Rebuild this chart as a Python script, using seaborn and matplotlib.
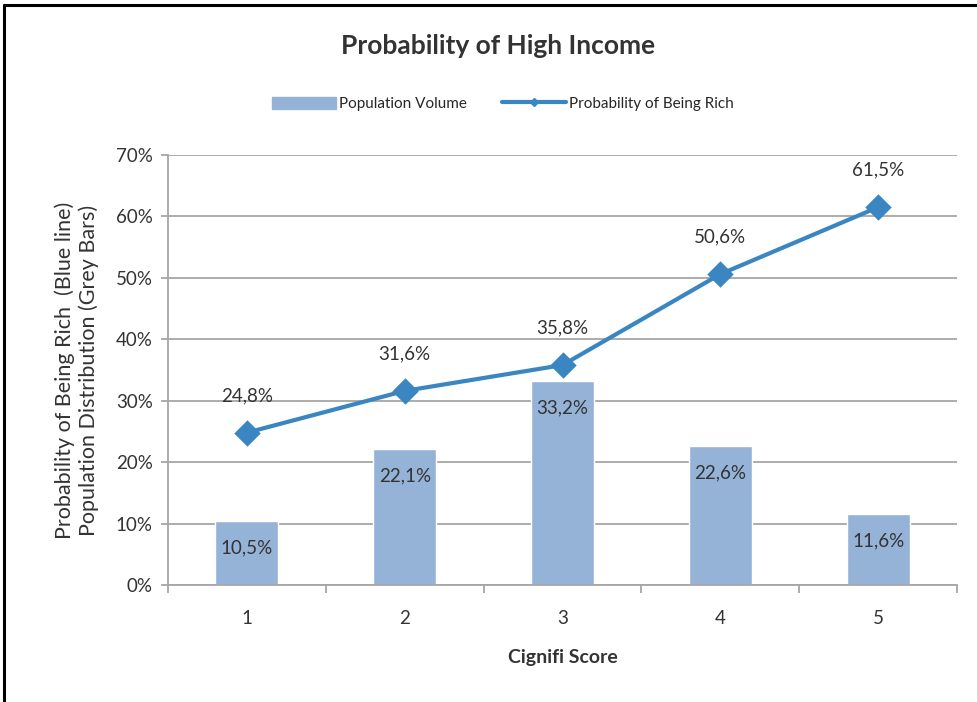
import matplotlib
matplotlib.use("Agg")
import matplotlib.pyplot as plt
import matplotlib.lines as mlines
import matplotlib.patches as mpatches
import seaborn as sns
import pandas as pd

categories = ["1", "2", "3", "4", "5"]
population = [10.5, 22.1, 33.2, 22.6, 11.6]
prob_rich = [24.8, 31.6, 35.8, 50.6, 61.5]
bar_labels = ["10,5%", "22,1%", "33,2%", "22,6%", "11,6%"]
line_labels = ["24,8%", "31,6%", "35,8%", "50,6%", "61,5%"]
yticks = [0, 10, 20, 30, 40, 50, 60, 70]
ytick_labels = ["0%", "10%", "20%", "30%", "40%", "50%", "60%", "70%"]

BAR_C = "#95B3D7"
LINE_C = "#3A86C2"
GRID_C = "#A6A6A6"
TXT_C = "#333333"

sns.set_style("white")
plt.rcParams["font.family"] = ["Lato", "DejaVu Sans"]

df = pd.DataFrame({"score": categories, "pop": population, "prob": prob_rich})

fig = plt.figure(figsize=(9.77, 7.02), dpi=100)
ax = fig.add_axes([168/977, 1-585/702, (957-168)/977, (585-155)/702])

sns.barplot(data=df, x="score", y="pop", color=BAR_C, width=0.4,
            saturation=1, ax=ax, zorder=2)
sns.pointplot(data=df, x="score", y="prob", color=LINE_C, markers="D",
              markersize=11, linewidth=3, ax=ax, zorder=4)

ax.set_xlim(-0.5, 4.5)
ax.set_ylim(0, 70)
ax.set_yticks(yticks)
ax.set_yticklabels(ytick_labels)
ax.yaxis.grid(True, color=GRID_C, linewidth=1.3, zorder=0)
ax.set_axisbelow(True)
for s in ["top", "right"]:
    ax.spines[s].set_visible(False)
ax.spines["left"].set_color(GRID_C)
ax.spines["bottom"].set_color(GRID_C)
ax.spines["left"].set_linewidth(1.3)
ax.spines["bottom"].set_linewidth(1.3)

# x ticks: labels at centres, tick marks at boundaries
ax.set_xticks(range(5))
ax.set_xticklabels(categories)
ax.tick_params(axis="x", length=0, pad=18, labelsize=13.5, labelcolor=TXT_C)
ax.set_xticks([i - 0.5 for i in range(6)], minor=True)
ax.tick_params(axis="x", which="minor", length=6, width=1.3, color=GRID_C, direction="out")
ax.tick_params(axis="y", length=5, width=1.3, color=GRID_C, direction="out",
               labelsize=13.5, labelcolor=TXT_C, pad=6)
ax.tick_params(bottom=True, left=True, which="both")

for i, (v, lab) in enumerate(zip(population, bar_labels)):
    ax.annotate(lab, (i, v), xytext=(0, -27), textcoords="offset pixels",
                ha="center", va="center", fontsize=13.5, color=TXT_C, zorder=5)
for i, (v, lab) in enumerate(zip(prob_rich, line_labels)):
    ax.annotate(lab, (i, v), xytext=(0, 37), textcoords="offset pixels",
                ha="center", va="center", fontsize=13.5, color=TXT_C, zorder=5)

ax.set_xlabel("Cignifi Score", fontsize=14, fontweight="bold", color=TXT_C, labelpad=16)
ax.set_ylabel("Probability of Being Rich  (Blue line)\nPopulation Distribution (Grey Bars)",
              fontsize=15.5, color=TXT_C, labelpad=12, linespacing=1.2)

fig.text(498/977, 1-46/702, "Probability of High Income", ha="center", va="center",
         fontsize=19, fontweight="bold", color=TXT_C)

h_bar = mpatches.Patch(color=BAR_C)
h_line = mlines.Line2D([], [], color=LINE_C, linewidth=3, marker="D", markersize=4)
fig.legend([h_bar, h_line], ["Population Volume", "Probability of Being Rich"],
           loc="center", bbox_to_anchor=(503/977, 1-104/702), ncol=2, frameon=False,
           fontsize=11, handlelength=4.2, handleheight=0.9, columnspacing=2.3, handletextpad=0.2)

# outer border (left and top visible)
fig.add_artist(mlines.Line2D([4/977, 4/977], [0, 1-5/702], color="black", linewidth=2.2,
                             transform=fig.transFigure))
fig.add_artist(mlines.Line2D([4/977, 1], [1-5/702, 1-5/702], color="black", linewidth=2.2,
                             transform=fig.transFigure))

fig.savefig("out.png", dpi=100)
